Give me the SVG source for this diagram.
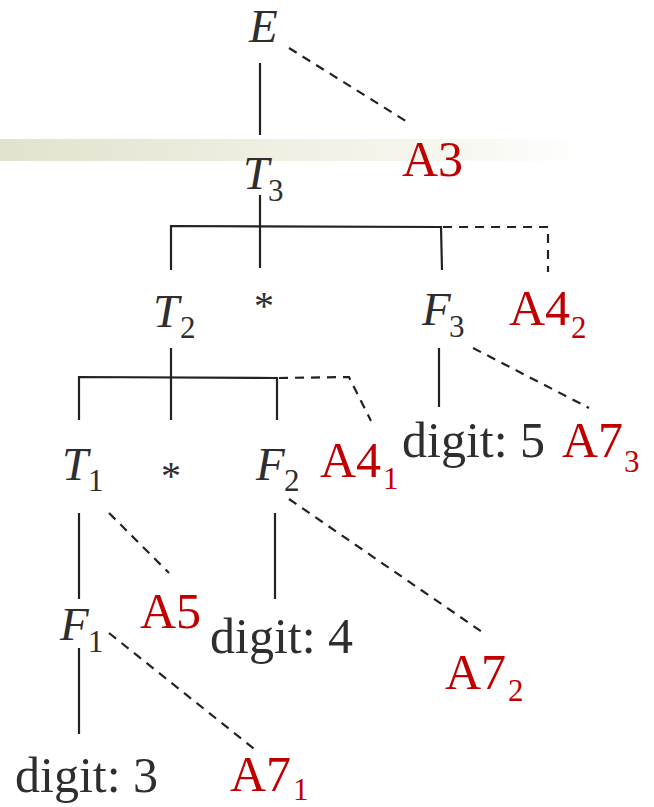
<svg xmlns="http://www.w3.org/2000/svg" width="654" height="807" viewBox="0 0 654 807">
<style>
.v{font-family:"Liberation Serif","Times New Roman",serif;font-style:italic;font-size:47px;fill:#2e2e2e}
.s{font-family:"Liberation Serif","Times New Roman",serif;font-style:normal;font-size:31px}
.d{font-family:"Liberation Serif","Times New Roman",serif;font-size:50px;fill:#2e2e2e}
.a{font-family:"Liberation Serif","Times New Roman",serif;font-size:50px;fill:#c00000}
.st{font-family:"Liberation Serif","Times New Roman",serif;font-size:40px;fill:#2e2e2e}
.ln{stroke:#222;stroke-width:2.2;fill:none}
.ds{stroke:#222;stroke-width:2.2;fill:none;stroke-dasharray:9 7}
</style>
<defs>
<linearGradient id="band" x1="0" y1="0" x2="1" y2="0">
<stop offset="0" stop-color="#e2e2cf"/>
<stop offset="0.45" stop-color="#f0f0e4"/>
<stop offset="0.75" stop-color="#f9f9f4"/>
<stop offset="0.9" stop-color="#ffffff"/>
</linearGradient>
</defs>
<rect width="654" height="807" fill="#ffffff"/>
<rect x="0" y="139" width="654" height="22" fill="url(#band)"/>
<g id="connectors">
<line class="ln" x1="260" y1="63" x2="260" y2="135"/>
<line class="ds" x1="289" y1="48" x2="409" y2="123"/>
<line class="ln" x1="260" y1="195" x2="260" y2="268"/>
<polyline class="ln" points="171,270 171,226 441,227 442,270"/>
<polyline class="ds" points="443,227 548,227 548,272"/>
<line class="ln" x1="171" y1="348" x2="171" y2="420"/>
<polyline class="ln" points="79,420 79,377 277,378 277,420"/>
<polyline class="ds" points="279,378 349,377 371,421"/>
<line class="ln" x1="439" y1="348" x2="439" y2="407"/>
<line class="ds" x1="473" y1="348" x2="589" y2="408"/>
<line class="ln" x1="79" y1="513" x2="79" y2="599"/>
<line class="ds" x1="109" y1="513" x2="169" y2="573"/>
<line class="ln" x1="275" y1="513" x2="275" y2="599"/>
<line class="ds" x1="289" y1="499" x2="485" y2="634"/>
<line class="ln" x1="79" y1="648" x2="79" y2="734"/>
<line class="ds" x1="109" y1="633" x2="258" y2="752"/>
</g>
<g id="E"><text class="v" x="249" y="42">E</text></g>
<g id="A3"><text class="a" x="402" y="176">A3</text></g>
<g id="T3"><text class="v" x="243" y="189">T<tspan class="s" x="268" y="201">3</tspan></text></g>
<g id="T2"><text class="v" x="153" y="327">T<tspan class="s" x="180" y="338">2</tspan></text></g>
<g id="star1"><text class="st" x="264" y="319" text-anchor="middle">*</text></g>
<g id="F3"><text class="v" x="422" y="325">F<tspan class="s" x="449" y="337">3</tspan></text></g>
<g id="A4_2"><text class="a" x="509" y="325">A4<tspan class="s" x="571" y="338">2</tspan></text></g>
<g id="T1"><text class="v" x="62" y="480">T<tspan class="s" x="88" y="491">1</tspan></text></g>
<g id="star2"><text class="st" x="171" y="489" text-anchor="middle">*</text></g>
<g id="F2"><text class="v" x="256" y="480">F<tspan class="s" x="284" y="491">2</tspan></text></g>
<g id="A4_1"><text class="a" x="320" y="477">A4<tspan class="s" x="383" y="489">1</tspan></text></g>
<g id="digit5"><text class="d" x="402" y="457">digit: 5</text></g>
<g id="A7_3"><text class="a" x="562" y="457">A7<tspan class="s" x="624" y="472">3</tspan></text></g>
<g id="F1"><text class="v" x="60" y="640">F<tspan class="s" x="88" y="652">1</tspan></text></g>
<g id="A5"><text class="a" x="140" y="628">A5</text></g>
<g id="digit4"><text class="d" x="210" y="653">digit: 4</text></g>
<g id="A7_2"><text class="a" x="445" y="689">A7<tspan class="s" x="508" y="701">2</tspan></text></g>
<g id="digit3"><text class="d" x="15" y="792">digit: 3</text></g>
<g id="A7_1"><text class="a" x="230" y="791">A7<tspan class="s" x="293" y="800">1</tspan></text></g>
</svg>
